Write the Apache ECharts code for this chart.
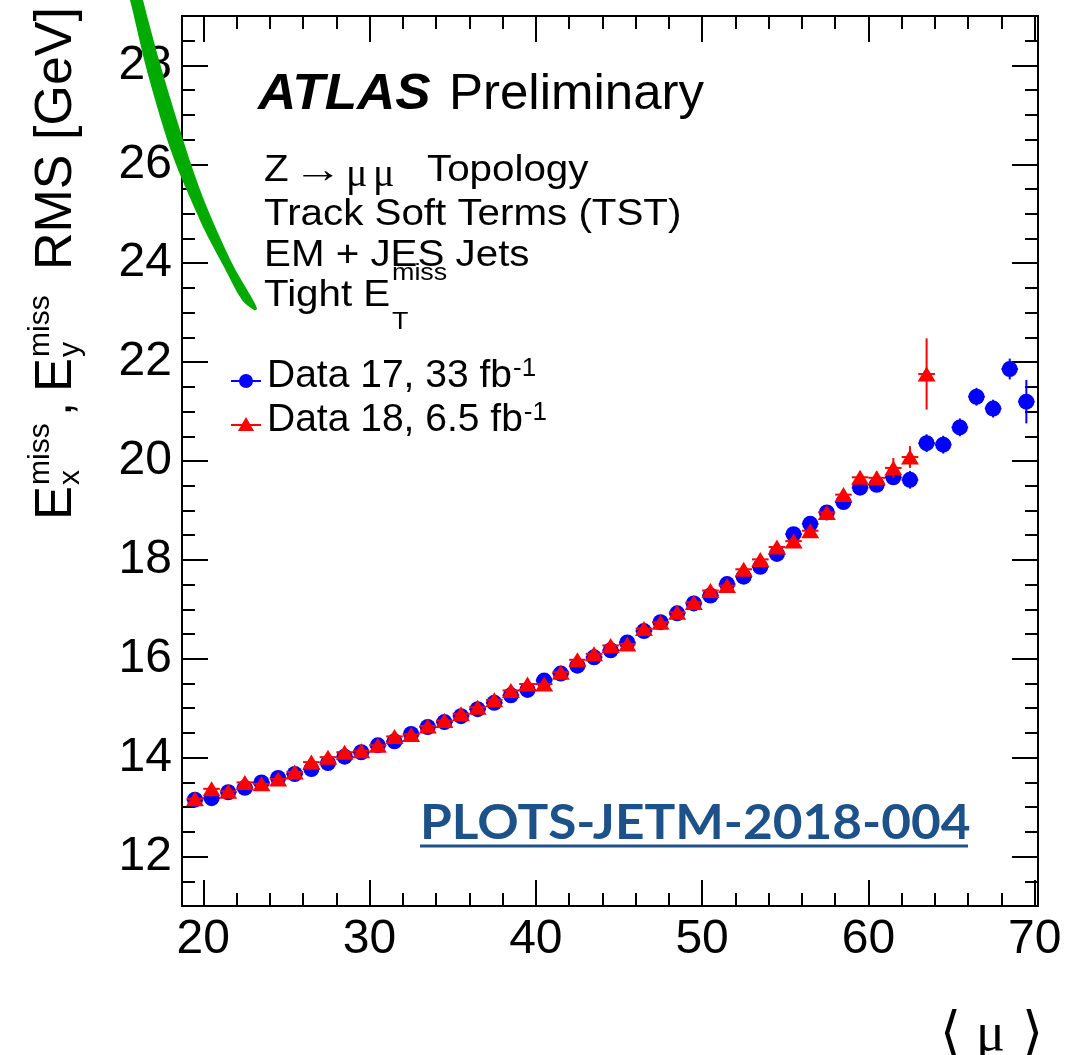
<!DOCTYPE html>
<html>
<head>
<meta charset="utf-8">
<title>MET resolution vs pile-up</title>
<script src="https://cdn.jsdelivr.net/npm/echarts@6/dist/echarts.min.js"></script>
<style>
  html, body { margin: 0; padding: 0; background: #ffffff; }
  #chart { width: 1091px; height: 1055px; }
</style>
</head>
<body>
<div id="chart"></div>
<script>
// <mu> bin centres (bin width 1)
const mu17 = [19.5, 20.5, 21.5, 22.5, 23.5, 24.5, 25.5, 26.5, 27.5, 28.5,
              29.5, 30.5, 31.5, 32.5, 33.5, 34.5, 35.5, 36.5, 37.5, 38.5,
              39.5, 40.5, 41.5, 42.5, 43.5, 44.5, 45.5, 46.5, 47.5, 48.5,
              49.5, 50.5, 51.5, 52.5, 53.5, 54.5, 55.5, 56.5, 57.5, 58.5,
              59.5, 60.5, 61.5, 62.5, 63.5, 64.5, 65.5, 66.5, 67.5, 68.5, 69.5];
const mu18 = [19.5, 20.5, 21.5, 22.5, 23.5, 24.5, 25.5, 26.5, 27.5, 28.5,
              29.5, 30.5, 31.5, 32.5, 33.5, 34.5, 35.5, 36.5, 37.5, 38.5,
              39.5, 40.5, 41.5, 42.5, 43.5, 44.5, 45.5, 46.5, 47.5, 48.5,
              49.5, 50.5, 51.5, 52.5, 53.5, 54.5, 55.5, 56.5, 57.5, 58.5,
              59.5, 60.5, 61.5, 62.5, 63.5];

// Emiss_x,y RMS [GeV], 2017 data (33 fb^-1)
const rms17 = [13.15, 13.18, 13.30, 13.39, 13.50, 13.59, 13.67, 13.77, 13.89, 14.02,
               14.11, 14.25, 14.33, 14.48, 14.62, 14.72, 14.84, 14.98, 15.11, 15.26,
               15.37, 15.56, 15.70, 15.86, 16.03, 16.17, 16.33, 16.56, 16.74, 16.92,
               17.12, 17.28, 17.51, 17.66, 17.86, 18.12, 18.52, 18.73, 18.96, 19.17,
               19.46, 19.52, 19.67, 19.62, 20.36, 20.33, 20.68, 21.30, 21.06, 21.86, 21.20];
const err17 = [0.05, 0.04, 0.04, 0.03, 0.03, 0.03, 0.03, 0.03, 0.03, 0.03,
               0.03, 0.03, 0.03, 0.03, 0.03, 0.03, 0.03, 0.03, 0.03, 0.03,
               0.03, 0.03, 0.03, 0.03, 0.03, 0.03, 0.03, 0.03, 0.03, 0.04,
               0.04, 0.04, 0.04, 0.04, 0.05, 0.05, 0.05, 0.05, 0.06, 0.06,
               0.07, 0.08, 0.10, 0.18, 0.18, 0.18, 0.18, 0.18, 0.18, 0.21, 0.44];

// Emiss_x,y RMS [GeV], 2018 data (6.5 fb^-1)
const rms18 = [13.17, 13.37, 13.32, 13.50, 13.47, 13.57, 13.71, 13.91, 14.01, 14.11,
               14.14, 14.25, 14.43, 14.47, 14.64, 14.75, 14.89, 15.02, 15.17, 15.36,
               15.49, 15.49, 15.73, 15.98, 16.10, 16.27, 16.30, 16.61, 16.74, 16.94,
               17.14, 17.38, 17.48, 17.81, 18.01, 18.26, 18.38, 18.59, 18.96, 19.32,
               19.67, 19.66, 19.86, 20.08, 21.76];
const err18 = [0.07, 0.06, 0.06, 0.06, 0.06, 0.06, 0.06, 0.06, 0.06, 0.06,
               0.06, 0.06, 0.06, 0.06, 0.06, 0.06, 0.06, 0.06, 0.06, 0.06,
               0.06, 0.06, 0.06, 0.06, 0.06, 0.06, 0.06, 0.06, 0.06, 0.06,
               0.07, 0.07, 0.07, 0.08, 0.08, 0.08, 0.09, 0.09, 0.10, 0.10,
               0.12, 0.13, 0.20, 0.22, 0.72];

const binHalfWidth = 0.5;

// axis ranges and tick positions
const xRange = [18.72, 70.2];
const yRange = [11, 29];
const xMajorTicks = [20, 30, 40, 50, 60, 70];
const xMinorTicks = [20, 22, 24, 26, 28, 30, 32, 34, 36, 38, 40, 42, 44, 46, 48, 50,
                     52, 54, 56, 58, 60, 62, 64, 66, 68, 70];
const yMajorTicks = [12, 14, 16, 18, 20, 22, 24, 26, 28];
const yMinorTicks = [11, 11.5, 12, 12.5, 13, 13.5, 14, 14.5, 15, 15.5, 16, 16.5, 17, 17.5,
                     18, 18.5, 19, 19.5, 20, 20.5, 21, 21.5, 22, 22.5, 23, 23.5, 24, 24.5,
                     25, 25.5, 26, 26.5, 27, 27.5, 28, 28.5, 29];

const BLUE = '#0000ff';
const RED = '#ff0000';
const SANS = '"Liberation Sans", Arial, Helvetica, sans-serif';
const SERIF = '"Liberation Serif", "DejaVu Serif", "Times New Roman", serif';

const pts17 = mu17.map((m, i) => [m, rms17[i], err17[i]]);
const pts18 = mu18.map((m, i) => [m, rms18[i], err18[i]]);

function errorBars(color) {
  return function (params, api) {
    const x = api.value(0), y = api.value(1), e = api.value(2);
    const l = api.coord([x - binHalfWidth, y]);
    const r = api.coord([x + binHalfWidth, y]);
    const lo = api.coord([x, y - e]);
    const hi = api.coord([x, y + e]);
    const st = { stroke: color, lineWidth: 2 };
    return {
      type: 'group',
      children: [
        { type: 'line', shape: { x1: l[0], y1: l[1], x2: r[0], y2: r[1] }, style: st },
        { type: 'line', shape: { x1: lo[0], y1: lo[1], x2: hi[0], y2: hi[1] }, style: st }
      ]
    };
  };
}

function xAxisDef(position, ticks, len, withLabels) {
  return {
    type: 'value', position: position, min: xRange[0], max: xRange[1],
    axisLine: { show: false, onZero: false },
    splitLine: { show: false },
    axisTick: { show: true, inside: true, length: len, customValues: ticks,
                lineStyle: { color: '#000', width: 2 } },
    axisLabel: withLabels
      ? { show: true, customValues: ticks, color: '#000', fontSize: 48,
          fontFamily: SANS, margin: 10 }
      : { show: false }
  };
}
function yAxisDef(position, ticks, len, withLabels) {
  return {
    type: 'value', position: position, min: yRange[0], max: yRange[1],
    axisLine: { show: false, onZero: false },
    splitLine: { show: false },
    axisTick: { show: true, inside: true, length: len, customValues: ticks,
                lineStyle: { color: '#000', width: 2 } },
    axisLabel: withLabels
      ? { show: true, customValues: ticks, color: '#000', fontSize: 48,
          fontFamily: SANS, margin: 10 }
      : { show: false }
  };
}

// plain text helper (left aligned, vertically centred on y)
function label(text, x, y, size, extra) {
  return Object.assign({
    type: 'text', x: x, y: y, z: 10,
    style: Object.assign({ text: text, fontSize: size, fontFamily: SANS,
                           verticalAlign: 'middle', fill: '#000' }, (extra && extra.style) || {})
  }, extra && extra.el ? extra.el : {});
}
const WIDE = { el: { scaleX: 1.12 } };

// green brush stroke drawn over the upper-left corner
const strokeLeft = [[127, -8], [130, 0], [146, 67], [165, 133], [177, 167], [191, 200],
                    [206, 233], [224, 267], [242, 300], [254, 310]];
const strokeRight = [[257, 309], [253, 300], [234, 267], [218, 233], [204, 200],
                     [192, 167], [181, 133], [161, 67], [143, 0], [142, -8]];

const sup = { fontSize: 26, fontFamily: SANS, verticalAlign: 'top', padding: [0, 0, 14, 1] };

const option = {
  animation: false,
  backgroundColor: '#ffffff',
  grid: { left: 182, right: 53, top: 16, bottom: 149, show: true,
          borderColor: '#000', borderWidth: 2, backgroundColor: 'transparent' },
  xAxis: [
    xAxisDef('bottom', xMajorTicks, 26, true),
    xAxisDef('bottom', xMinorTicks, 13, false),
    xAxisDef('top', xMajorTicks, 26, false),
    xAxisDef('top', xMinorTicks, 13, false)
  ],
  yAxis: [
    yAxisDef('left', yMajorTicks, 26, true),
    yAxisDef('left', yMinorTicks, 13, false),
    yAxisDef('right', yMajorTicks, 26, false),
    yAxisDef('right', yMinorTicks, 13, false)
  ],
  series: [
    { name: 'Data 17, 33 fb-1 errors', type: 'custom', data: pts17, z: 2, clip: true,
      renderItem: errorBars(BLUE), encode: { x: 0, y: 1 } },
    { name: 'Data 17, 33 fb-1', type: 'scatter', data: pts17, z: 3,
      symbol: 'circle', symbolSize: 16, itemStyle: { color: BLUE, opacity: 1 } },
    { name: 'Data 18, 6.5 fb-1 errors', type: 'custom', data: pts18, z: 4, clip: true,
      renderItem: errorBars(RED), encode: { x: 0, y: 1 } },
    { name: 'Data 18, 6.5 fb-1', type: 'scatter', data: pts18, z: 5,
      symbol: 'triangle', symbolSize: [18, 15], itemStyle: { color: RED, opacity: 1 } }
  ],
  graphic: [
    // ATLAS label
    { type: 'text', x: 258, y: 70, z: 10, scaleX: 1.06,
      style: { text: 'ATLAS', fontSize: 50, fontWeight: 'bold', fontStyle: 'italic',
               fontFamily: SANS, fill: '#000' } },
    { type: 'text', x: 449, y: 70, z: 10, scaleX: 1.02,
      style: { text: 'Preliminary', fontSize: 50, fontFamily: SANS, fill: '#000' } },
    // selection description
    label('Z', 264, 171, 36, WIDE),
    label('\u2192', 293, 172, 38, { el: { scaleX: 1.3 }, style: { fontFamily: SERIF } }),
    label('\u03bc', 346, 175, 40, { style: { fontFamily: SERIF } }),
    label('\u03bc', 373, 175, 40, { style: { fontFamily: SERIF } }),
    label('Topology', 427, 171, 36, WIDE),
    label('Track Soft Terms (TST)', 264, 215, 36, WIDE),
    label('EM + JES Jets', 264, 256.5, 36, WIDE),
    label('Tight E', 264, 296.5, 36, WIDE),
    label('miss', 392, 273.5, 24, WIDE),
    label('T', 392, 322.5, 24, WIDE),
    // legend
    { type: 'line', z: 10, shape: { x1: 231, y1: 381, x2: 261, y2: 381 },
      style: { stroke: BLUE, lineWidth: 2 } },
    { type: 'circle', z: 10, shape: { cx: 246, cy: 381, r: 7 }, style: { fill: BLUE } },
    { type: 'text', x: 267, y: 376, z: 10,
      style: { text: '{n|Data 17, 33 fb}{s|-1}', verticalAlign: 'middle', fill: '#000',
               rich: { n: { fontSize: 39, fontFamily: SANS }, s: sup } } },
    { type: 'line', z: 10, shape: { x1: 231, y1: 425, x2: 261, y2: 425 },
      style: { stroke: RED, lineWidth: 2 } },
    { type: 'polygon', z: 10, shape: { points: [[238, 431], [254, 431], [246, 417]] },
      style: { fill: RED } },
    { type: 'text', x: 267, y: 420, z: 10,
      style: { text: '{n|Data 18, 6.5 fb}{s|-1}', verticalAlign: 'middle', fill: '#000',
               rich: { n: { fontSize: 39, fontFamily: SANS }, s: sup } } },
    // y-axis title, reading bottom to top
    { type: 'group', x: 72, y: 520, rotation: Math.PI / 2, z: 10,
      children: [
        { type: 'text', x: 0, y: -15, style: { text: 'E', fontSize: 51, fontFamily: SANS, verticalAlign: 'middle', fill: '#000' } },
        { type: 'text', x: 35, y: -31, style: { text: 'miss', fontSize: 30, fontFamily: SANS, verticalAlign: 'middle', fill: '#000' } },
        { type: 'text', x: 35, y: -1, style: { text: 'x', fontSize: 30, fontFamily: SANS, verticalAlign: 'middle', fill: '#000' } },
        { type: 'text', x: 104, y: -15, style: { text: ',', fontSize: 51, fontFamily: SANS, verticalAlign: 'middle', fill: '#000' } },
        { type: 'text', x: 128, y: -15, style: { text: 'E', fontSize: 51, fontFamily: SANS, verticalAlign: 'middle', fill: '#000' } },
        { type: 'text', x: 163, y: -31, style: { text: 'miss', fontSize: 30, fontFamily: SANS, verticalAlign: 'middle', fill: '#000' } },
        { type: 'text', x: 163, y: -1, style: { text: 'y', fontSize: 30, fontFamily: SANS, verticalAlign: 'middle', fill: '#000' } },
        { type: 'text', x: 250, y: -15, style: { text: 'RMS [GeV]', fontSize: 52, fontFamily: SANS, verticalAlign: 'middle', fill: '#000' } }
      ] },
    // x-axis title
    label('\u27e8', 940, 1036, 54, { style: { fontFamily: SERIF } }),
    label('\u03bc', 976, 1036, 54, { style: { fontFamily: SERIF } }),
    label('\u27e9', 1022, 1036, 54, { style: { fontFamily: SERIF } }),
    // publication reference
    { type: 'text', x: 420, y: 824, z: 10, scaleX: 1.07,
      style: { text: 'PLOTS-JETM-2018-004', fontSize: 48, fontWeight: 'bold',
               fontFamily: 'Lato, "Open Sans", sans-serif', verticalAlign: 'middle',
               fill: '#1d5189' } },
    { type: 'line', z: 10, shape: { x1: 420, y1: 846, x2: 968, y2: 846 },
      style: { stroke: '#1d5189', lineWidth: 3 } },
    // green brush stroke
    { type: 'polygon', z: 20,
      shape: { points: strokeLeft.concat(strokeRight), smooth: 0.3 },
      style: { fill: '#00aa00' } }
  ]
};

const chart = echarts.init(document.getElementById('chart'), null, { renderer: 'canvas' });
chart.setOption(option);
</script>
</body>
</html>
